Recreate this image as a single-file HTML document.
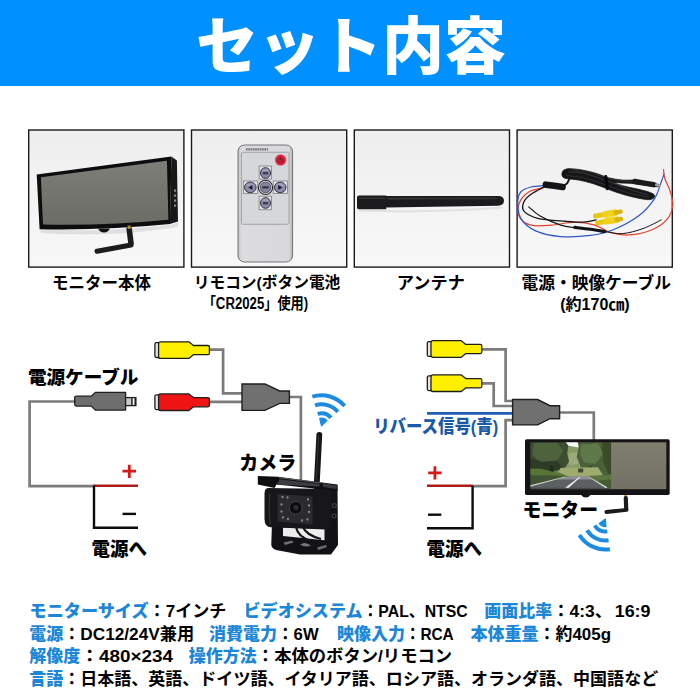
<!DOCTYPE html>
<html lang="ja"><head><meta charset="utf-8"><title>セット内容</title>
<style>
html,body{margin:0;padding:0;background:#fff}
#p{position:relative;width:700px;height:700px;overflow:hidden;background:#fff;font-family:"Liberation Sans","Noto Sans CJK JP",sans-serif}
#p svg{position:absolute;left:0;top:0;display:block}
#p svg text{font-family:"Liberation Sans","Noto Sans CJK JP",sans-serif;white-space:pre}
</style></head><body>
<div id="p">
<svg width="700" height="700" viewBox="0 0 700 700">
<defs>
<linearGradient id="bg1" x1="0" y1="0" x2="0" y2="1"><stop offset="0" stop-color="#eeeeef"/><stop offset="0.6" stop-color="#f4f4f5"/><stop offset="1" stop-color="#f8f8f9"/></linearGradient>
<linearGradient id="scr" x1="0" y1="0" x2="0" y2="1"><stop offset="0" stop-color="#7d7e77"/><stop offset="1" stop-color="#6b6c65"/></linearGradient>
<linearGradient id="rem" x1="0" y1="0" x2="1" y2="0"><stop offset="0" stop-color="#c2c2c4"/><stop offset="0.07" stop-color="#dcdcde"/><stop offset="0.93" stop-color="#d9d9db"/><stop offset="1" stop-color="#b4b4b6"/></linearGradient>
</defs>
<rect x="0" y="0" width="700" height="86" fill="#0090ff"/>
<text x="196" y="68.5" font-size="62" font-weight="900" fill="#fff" textLength="310" lengthAdjust="spacingAndGlyphs">セット内容</text>
<rect x="28.7" y="130" width="155.2" height="137.1" fill="url(#bg1)" stroke="#1a1a1a" stroke-width="1.4"/>
<rect x="191.5" y="130" width="155.2" height="137.1" fill="url(#bg1)" stroke="#1a1a1a" stroke-width="1.4"/>
<rect x="354.3" y="130" width="155.2" height="137.1" fill="url(#bg1)" stroke="#1a1a1a" stroke-width="1.4"/>
<rect x="517.1" y="130" width="155.2" height="137.1" fill="url(#bg1)" stroke="#1a1a1a" stroke-width="1.4"/>
<text x="51.9" y="289" font-size="16.7" font-weight="700" fill="#000" textLength="99" lengthAdjust="spacingAndGlyphs">モニター本体</text>
<text x="193.79" y="288.3" font-size="15.5" font-weight="700" fill="#000" textLength="146.5" lengthAdjust="spacingAndGlyphs">リモコン(ボタン電池</text>
<text x="202.7" y="309.3" font-size="16" font-weight="700" fill="#000" textLength="105.5" lengthAdjust="spacingAndGlyphs">「CR2025」使用)</text>
<text x="396.89" y="289" font-size="17" font-weight="700" fill="#000" textLength="68" lengthAdjust="spacingAndGlyphs">アンテナ</text>
<text x="521.5" y="289" font-size="16.55" font-weight="700" fill="#000" textLength="149.5" lengthAdjust="spacingAndGlyphs">電源・映像ケーブル</text>
<text x="560.2" y="309.5" font-size="15.6" font-weight="700" fill="#000" textLength="69.5" lengthAdjust="spacingAndGlyphs">(約170㎝)</text>
<polyline fill="none" stroke="#7b7b7b" stroke-width="2.7" stroke-linejoin="miter" points="75,401.5 29.6,401.5 29.6,486.2 94,486.2"/>
<polyline fill="none" stroke="#7b7b7b" stroke-width="2.7" stroke-linejoin="miter" points="209,349.6 223.1,349.6 223.1,393.4 243,393.4"/>
<polyline fill="none" stroke="#7b7b7b" stroke-width="2.7" stroke-linejoin="miter" points="209,401.9 243,401.9"/>
<polyline fill="none" stroke="#7b7b7b" stroke-width="2.7" stroke-linejoin="miter" points="289,397 300.9,397 300.9,482"/>
<polyline fill="none" stroke="#b01c1c" stroke-width="2.5" stroke-linejoin="miter" points="93,485.8 138,485.8"/>
<polyline fill="none" stroke="#0c0c0c" stroke-width="2.4" stroke-linejoin="miter" points="138,527.8 94,527.8 94,485.8"/>
<path d="M122.5 471.2H136M129.3 464.8V478" stroke="#d61a1a" stroke-width="2.8" fill="none"/>
<path d="M122.5 513.9H136" stroke="#0c0c0c" stroke-width="2.4" fill="none"/>
<rect x="154.9" y="342.7" width="6" height="14.8" rx="1.5" fill="#e9e2dc" stroke="#1e1e1e" stroke-width="1.3"/>
<path d="M160.6 341.8H188.9L193.4 345.5H207.9Q209.4 345.5 209.4 347V353.2Q209.4 354.7 207.9 354.7H193.4L188.9 358.4H160.6Q158.6 358.4 158.6 356.4V343.8Q158.6 341.8 160.6 341.8Z" fill="#fff000" stroke="#1e1e1e" stroke-width="1.3" stroke-linejoin="round"/>
<rect x="154.9" y="394.8" width="6" height="14.8" rx="1.5" fill="#e9e2dc" stroke="#1e1e1e" stroke-width="1.3"/>
<path d="M160.6 393.9H188.9L193.4 397.6H207.9Q209.4 397.6 209.4 399.1V405.3Q209.4 406.8 207.9 406.8H193.4L188.9 410.5H160.6Q158.6 410.5 158.6 408.5V395.9Q158.6 393.9 160.6 393.9Z" fill="#f01414" stroke="#1e1e1e" stroke-width="1.3" stroke-linejoin="round"/>
<path d="M242 383.95H264.9L279.7 390.95H289.4V403.35H279.7L264.9 410.35H242Z" fill="#707070" stroke="#1e1e1e" stroke-width="1.4" stroke-linejoin="miter"/>
<rect x="125" y="397.6" width="10.9" height="8" fill="#c9c9c9" stroke="#1e1e1e" stroke-width="1.3"/>
<rect x="132.6" y="398.3" width="1.9" height="6.6" fill="#f6f6f6"/>
<rect x="131.2" y="398" width="1.4" height="7.2" fill="#1e1e1e"/>
<rect x="134.5" y="398" width="1.4" height="7.2" fill="#1e1e1e"/>
<path d="M76.2 396.2H91.3L95.3 392.4H125.6V410.1H95.3L91.3 406.1H76.2Q74.7 406.1 74.7 404.6V397.7Q74.7 396.2 76.2 396.2Z" fill="#6e6e6e" stroke="#1e1e1e" stroke-width="1.3" stroke-linejoin="round"/>
<polyline fill="none" stroke="#7b7b7b" stroke-width="2.7" stroke-linejoin="miter" points="481,349.3 505.6,349.3 505.6,401 514,401"/>
<polyline fill="none" stroke="#7b7b7b" stroke-width="2.7" stroke-linejoin="miter" points="481,383.3 493.7,383.3 493.7,406 514,406"/>
<polyline fill="none" stroke="#1d5fae" stroke-width="2.7" stroke-linejoin="miter" points="427,413.3 514,413.3"/>
<polyline fill="none" stroke="#7b7b7b" stroke-width="2.7" stroke-linejoin="miter" points="514,420.1 505.6,420.1 505.6,486.2 472,486.2"/>
<polyline fill="none" stroke="#7b7b7b" stroke-width="2.7" stroke-linejoin="miter" points="559,412.5 593.8,412.5 593.8,441"/>
<polyline fill="none" stroke="#b01c1c" stroke-width="2.5" stroke-linejoin="miter" points="427,485.8 472.8,485.8"/>
<polyline fill="none" stroke="#0c0c0c" stroke-width="2.4" stroke-linejoin="miter" points="427,528.2 472.6,528.2 472.6,485.8"/>
<path d="M428.2 472.9H441.6M434.9 466.2V479.6" stroke="#d61a1a" stroke-width="2.8" fill="none"/>
<path d="M428 514.7H441.3" stroke="#0c0c0c" stroke-width="2.4" fill="none"/>
<rect x="427.3" y="341.6" width="6" height="14.8" rx="1.5" fill="#e9e2dc" stroke="#1e1e1e" stroke-width="1.3"/>
<path d="M433 340.7H461.3L465.8 344.4H480.3Q481.8 344.4 481.8 345.9V352.1Q481.8 353.6 480.3 353.6H465.8L461.3 357.3H433Q431 357.3 431 355.3V342.7Q431 340.7 433 340.7Z" fill="#fff000" stroke="#1e1e1e" stroke-width="1.3" stroke-linejoin="round"/>
<rect x="427.3" y="375.8" width="6" height="14.8" rx="1.5" fill="#e9e2dc" stroke="#1e1e1e" stroke-width="1.3"/>
<path d="M433 374.9H461.3L465.8 378.6H480.3Q481.8 378.6 481.8 380.1V386.3Q481.8 387.8 480.3 387.8H465.8L461.3 391.5H433Q431 391.5 431 389.5V376.9Q431 374.9 433 374.9Z" fill="#fff000" stroke="#1e1e1e" stroke-width="1.3" stroke-linejoin="round"/>
<path d="M512.6 399.5H537.6L550 405.7H559.6V418.7H550L537.6 424.9H512.6Z" fill="#707070" stroke="#1e1e1e" stroke-width="1.4" stroke-linejoin="miter"/>
<text x="27.92" y="384" font-size="18.6" font-weight="800" fill="#000" textLength="110.5" lengthAdjust="spacingAndGlyphs">電源ケーブル</text>
<text x="239.17" y="469.9" font-size="19.2" font-weight="800" fill="#000" textLength="57" lengthAdjust="spacingAndGlyphs">カメラ</text>
<text x="91.62" y="556.2" font-size="19" font-weight="800" fill="#000" textLength="55.5" lengthAdjust="spacingAndGlyphs">電源へ</text>
<text x="373.18" y="433.3" font-size="18" font-weight="800" fill="#1a58a8" textLength="125" lengthAdjust="spacingAndGlyphs">リバース信号(青)</text>
<text x="522.58" y="517.4" font-size="19.2" font-weight="800" fill="#000" textLength="75.5" lengthAdjust="spacingAndGlyphs">モニター</text>
<text x="426.42" y="556.2" font-size="19" font-weight="800" fill="#000" textLength="55.5" lengthAdjust="spacingAndGlyphs">電源へ</text>
<text x="29.59" y="616.8" font-size="17" font-weight="800" fill="#1c86d9" textLength="119" lengthAdjust="spacingAndGlyphs">モニターサイズ</text>
<text x="148.59" y="616.8" font-size="17" font-weight="700" fill="#000" textLength="77.8" lengthAdjust="spacingAndGlyphs">：7インチ</text>
<text x="243.54" y="616.8" font-size="17" font-weight="800" fill="#1c86d9" textLength="119" lengthAdjust="spacingAndGlyphs">ビデオシステム</text>
<text x="362.54" y="616.8" font-size="17" font-weight="700" fill="#000" textLength="105.2" lengthAdjust="spacingAndGlyphs">：PAL、NTSC</text>
<text x="484.2" y="616.8" font-size="17" font-weight="800" fill="#1c86d9" textLength="68" lengthAdjust="spacingAndGlyphs">画面比率</text>
<text x="552.2" y="616.8" font-size="17" font-weight="700" fill="#000" textLength="60" lengthAdjust="spacingAndGlyphs">：4:3、</text>
<text x="614.73" y="616.8" font-size="17" font-weight="700" fill="#000" textLength="35.8" lengthAdjust="spacingAndGlyphs">16:9</text>
<text x="29.18" y="639.8" font-size="17" font-weight="800" fill="#1c86d9" textLength="34" lengthAdjust="spacingAndGlyphs">電源</text>
<text x="63.18" y="639.8" font-size="17" font-weight="700" fill="#000" textLength="130.9" lengthAdjust="spacingAndGlyphs">：DC12/24V兼用</text>
<text x="208.99" y="639.8" font-size="17" font-weight="800" fill="#1c86d9" textLength="68" lengthAdjust="spacingAndGlyphs">消費電力</text>
<text x="276.99" y="639.8" font-size="17" font-weight="700" fill="#000" textLength="41.6" lengthAdjust="spacingAndGlyphs">：6W</text>
<text x="337.02" y="639.8" font-size="17" font-weight="800" fill="#1c86d9" textLength="68" lengthAdjust="spacingAndGlyphs">映像入力</text>
<text x="405.02" y="639.8" font-size="17" font-weight="700" fill="#000" textLength="48.7" lengthAdjust="spacingAndGlyphs">：RCA</text>
<text x="470.53" y="639.8" font-size="17" font-weight="800" fill="#1c86d9" textLength="68" lengthAdjust="spacingAndGlyphs">本体重量</text>
<text x="538.53" y="639.8" font-size="17" font-weight="700" fill="#000" textLength="72.5" lengthAdjust="spacingAndGlyphs">：約405g</text>
<text x="29.21" y="662.3" font-size="17" font-weight="800" fill="#1c86d9" textLength="51" lengthAdjust="spacingAndGlyphs">解像度</text>
<text x="80.21" y="662.3" font-size="17" font-weight="700" fill="#000" textLength="92.7" lengthAdjust="spacingAndGlyphs">：480×234</text>
<text x="188.84" y="662.3" font-size="17" font-weight="800" fill="#1c86d9" textLength="68" lengthAdjust="spacingAndGlyphs">操作方法</text>
<text x="256.84" y="662.3" font-size="17" font-weight="700" fill="#000" textLength="195.3" lengthAdjust="spacingAndGlyphs">：本体のボタン/リモコン</text>
<text x="29.2" y="684.5" font-size="17" font-weight="800" fill="#1c86d9" textLength="34" lengthAdjust="spacingAndGlyphs">言語</text>
<text x="63.2" y="684.5" font-size="17" font-weight="700" fill="#000" textLength="595" lengthAdjust="spacingAndGlyphs">：日本語、英語、ドイツ語、イタリア語、ロシア語、オランダ語、中国語など</text>
<g>
<path d="M40 229Q105 233 172 224.5L178 222L178 227Q110 238 41 233Z" fill="#d9d9dc" opacity="0.8"/>
<path d="M171.4 156.6L176.9 160.5L178 221.4L169.9 224Z" fill="#18181a"/>
<path d="M36.7 174.4L171.4 156.6L170.1 224Q105 230.5 39.6 229.2Z" fill="#0d0d0f"/>
<path d="M40.9 177.3L166.9 160.8L168.4 219.8Q105 226 43 224.6Z" fill="url(#scr)"/>
<rect x="174" y="189.5" width="2.2" height="2.2" fill="#8a8a8e"/>
<rect x="174" y="194.5" width="2.2" height="2.2" fill="#8a8a8e"/>
<rect x="174" y="199.5" width="2.2" height="2.2" fill="#8a8a8e"/>
<rect x="174" y="204.5" width="2.2" height="2.2" fill="#8a8a8e"/>
<path d="M98 228.5H110Q108 232.5 104 232.5Q100 232.5 98 228.5Z" fill="#111"/>
<path d="M129.2 229L131 243.3" stroke="#1c1c1c" stroke-width="5.6" stroke-linecap="round" fill="none"/>
<path d="M131 245L97 251.2" stroke="#1c1c1c" stroke-width="5" stroke-linecap="round" fill="none"/>
<rect x="127.6" y="225.6" width="3" height="3.2" fill="#b8962e"/>
</g>
<g>
<rect x="238" y="145" width="54.6" height="117" rx="6.5" fill="url(#rem)" stroke="#66666a" stroke-width="0.9"/>
<rect x="241.4" y="152.3" width="47.6" height="72" rx="1.5" fill="#d6d7db" stroke="#8c8c90" stroke-width="0.7"/>
<path d="M246 149.3H268" stroke="#55555a" stroke-width="2.2" stroke-dasharray="1.6 0.7" opacity="0.8"/>
<circle cx="280.6" cy="160" r="5.9" fill="#e58a9a"/>
<circle cx="280.6" cy="160" r="5.2" fill="#d5233f"/>
<circle cx="280.6" cy="160.3" r="2.4" fill="none" stroke="#7e1020" stroke-width="0.9"/>
<path d="M280.6 156.8V160.2" stroke="#7e1020" stroke-width="0.9"/>
<rect x="259.1" y="166" width="12.5" height="13" fill="#e3e3e6" stroke="#707075" stroke-width="0.7"/>
<rect x="259.1" y="196.2" width="12.5" height="13.6" fill="#e3e3e6" stroke="#707075" stroke-width="0.7"/>
<rect x="243.3" y="181" width="14.5" height="12.6" fill="#e3e3e6" stroke="#707075" stroke-width="0.7"/>
<rect x="273.2" y="181" width="14.2" height="12.6" fill="#e3e3e6" stroke="#707075" stroke-width="0.7"/>
<ellipse cx="265.5" cy="173" rx="5" ry="5.3" fill="#8d8bab" stroke="#35343f" stroke-width="1"/>
<ellipse cx="265.5" cy="170.62" rx="3.25" ry="1.85" fill="#a9a7c2" opacity="0.7"/>
<ellipse cx="265.5" cy="203" rx="5" ry="5.3" fill="#8d8bab" stroke="#35343f" stroke-width="1"/>
<ellipse cx="265.5" cy="200.62" rx="3.25" ry="1.85" fill="#a9a7c2" opacity="0.7"/>
<ellipse cx="250.3" cy="187.4" rx="5.8" ry="5.3" fill="#8d8bab" stroke="#35343f" stroke-width="1"/>
<ellipse cx="250.3" cy="185.02" rx="3.77" ry="1.85" fill="#a9a7c2" opacity="0.7"/>
<ellipse cx="280.2" cy="187.4" rx="5.8" ry="5.3" fill="#8d8bab" stroke="#35343f" stroke-width="1"/>
<ellipse cx="280.2" cy="185.02" rx="3.77" ry="1.85" fill="#a9a7c2" opacity="0.7"/>
<circle cx="265.5" cy="187.4" r="7.1" fill="#f0f0f2" stroke="#26262e" stroke-width="1.1"/>
<circle cx="265.5" cy="187.4" r="5.4" fill="#8583a2" stroke="#3a3946" stroke-width="0.8"/>
<path d="M252.4 185.1V189.7L248.2 187.4Z" fill="#15151a"/><path d="M278.2 185.1V189.7L282.4 187.4Z" fill="#15151a"/>
<rect x="262.9" y="171.8" width="5.2" height="2.6" fill="#3d3c50"/><rect x="262.9" y="201.8" width="5.2" height="2.6" fill="#3d3c50"/><rect x="262.3" y="186.4" width="6.4" height="2" fill="#2d2c3c"/>
</g>
<g>
<path d="M358.5 209.5Q430 212 503 206.5L503 208.5Q430 214 358.5 211.5Z" fill="#dcdcde" opacity="0.8"/>
<path d="M359 195.5H386.3V195.9L498 196.1Q504 196.3 504 200.8Q504 205.4 498 205.7L386.3 207.5V209.3H359Q357 209.3 357 207.3V197.5Q357 195.5 359 195.5Z" fill="#1b1b1d"/>
<path d="M388 198.6L496 198.4" stroke="#3b3b3e" stroke-width="1.6" stroke-linecap="round" opacity="0.8"/>
<path d="M359 198.2H385" stroke="#38383b" stroke-width="1.6" opacity="0.8"/>
</g>
<g>
<path d="M544.26 187.43C541.67 188.19 532.9 189.33 528.71 192C524.52 194.67 520.64 199.24 519.11 203.43C517.59 207.62 517.59 213.52 519.57 217.14C521.55 220.76 525.67 223.81 531 225.14C536.33 226.48 544.33 225.64 551.57 225.14C558.81 224.65 567.19 222.17 574.43 222.17C581.67 222.17 588.9 223.39 595 225.14C601.1 226.9 605.29 231.05 611 232.69C616.71 234.32 622.43 235.47 629.29 234.97C636.14 234.48 645.86 232.3 652.14 229.71C658.43 227.12 663.57 223.43 667 219.43C670.43 215.43 672.14 210.29 672.71 205.71C673.29 201.14 671.76 196.57 670.43 192C669.1 187.43 665.86 182.02 664.71 178.29C663.57 174.55 663.76 171.05 663.57 169.6" fill="none" stroke="#e5412b" stroke-width="1.2" stroke-linecap="round" stroke-linejoin="round"/>
<path d="M544.26 185.83C542.05 186.02 534.92 185.94 531 186.97C527.08 188 522.92 189.26 520.71 192C518.5 194.74 517.63 198.86 517.74 203.43C517.86 208 518.43 214.86 521.4 219.43C524.37 224 529.02 228 535.57 230.86C542.12 233.71 551.57 235.81 560.71 236.57C569.86 237.33 581.67 236.57 590.43 235.43C599.19 234.29 605.29 232.95 613.29 229.71C621.29 226.48 631.57 221.14 638.43 216C645.29 210.86 650.62 204.57 654.43 198.86C658.24 193.14 659.69 185.83 661.29 181.71C662.89 177.6 663.57 175.43 664.03 174.17" fill="none" stroke="#2c58c4" stroke-width="1.2" stroke-linecap="round" stroke-linejoin="round"/>
<path d="M544.26 186.97C542.05 188.19 534.43 191.73 531 194.29C527.57 196.84 524.83 199.43 523.69 202.29C522.54 205.14 521.78 208.76 524.14 211.43C526.5 214.1 531 216.65 537.86 218.29C544.71 219.92 557.67 220.61 565.29 221.26C572.9 221.9 578.43 222.4 583.57 222.17C588.71 221.94 594.05 220.27 596.14 219.89" fill="none" stroke="#161616" stroke-width="1.3" stroke-linecap="round" stroke-linejoin="round"/>
<path d="M528.71 206.86C530.62 208.38 534.81 212.95 540.14 216C545.48 219.05 554.92 223.2 560.71 225.14C566.5 227.09 572.52 227.24 574.89 227.66" fill="none" stroke="#161616" stroke-width="1.2" stroke-linecap="round" stroke-linejoin="round"/>
<path d="M604.14 231.31C607.19 231.7 615.95 234.06 622.43 233.6C628.9 233.14 636.52 230.86 643 228.57C649.48 226.29 658.24 221.33 661.29 219.89" fill="none" stroke="#161616" stroke-width="1" stroke-linecap="round" stroke-linejoin="round"/>
<path d="M574.89 227.43C577.48 227.73 585.48 228.57 590.43 229.26C595.38 229.94 602.24 231.16 604.6 231.54" fill="none" stroke="#141414" stroke-width="3.2" stroke-linecap="round" stroke-linejoin="round"/>
<path d="M561.86 174.17C562.12 173.52 562.12 171.2 563.46 170.29C564.79 169.37 566.5 168.69 569.86 168.69C573.21 168.69 579 169.45 583.57 170.29C588.14 171.12 593.1 172.46 597.29 173.71C601.48 174.97 604.52 176.76 608.71 177.83C612.9 178.9 618.24 179.73 622.43 180.11C626.62 180.5 630.43 179.85 633.86 180.11C637.29 180.38 639.38 181.1 643 181.71C646.62 182.32 652.83 183.24 655.57 183.77C658.31 184.3 658.89 184.46 659.46 184.91C660.03 185.37 659.84 186.25 659 186.51C658.16 186.78 657.1 186.82 654.43 186.51C651.76 186.21 646.43 185.18 643 184.69C639.57 184.19 637.29 183.81 633.86 183.54C630.43 183.28 625.67 183.24 622.43 183.09C619.19 182.93 614.05 182.1 614.43 182.63C614.81 183.16 620.71 185.18 624.71 186.29C628.71 187.39 634.43 188.3 638.43 189.26C642.43 190.21 646.09 191.09 648.71 192C651.34 192.91 653.36 193.75 654.2 194.74C655.04 195.73 654.47 197.14 653.74 197.94C653.02 198.74 651.65 199.35 649.86 199.54C648.07 199.73 646.43 199.66 643 199.09C639.57 198.51 633.86 197.3 629.29 196.11C624.71 194.93 619.38 193.26 615.57 192C611.76 190.74 610.24 189.98 606.43 188.57C602.62 187.16 597.29 184.95 592.71 183.54C588.14 182.13 583.19 180.91 579 180.11C574.81 179.31 570.24 179.24 567.57 178.74C564.9 178.25 563.95 177.9 563 177.14C562.05 176.38 562.05 174.67 561.86 174.17Z" fill="#161618" stroke="#161618" stroke-width="0.8" stroke-linejoin="round"/>
<path d="M568.71 171.89C571.19 172.11 577.29 171.81 583.57 173.26C589.86 174.7 598.81 177.9 606.43 180.57C614.05 183.24 622.43 186.9 629.29 189.26C636.14 191.62 644.52 193.83 647.57 194.74" fill="none" stroke="#47474b" stroke-width="0.7" stroke-linecap="round" stroke-linejoin="round"/>
<path d="M566.43 175.54C569.29 175.92 576.9 176.23 583.57 177.83C590.24 179.43 598.81 182.59 606.43 185.14C614.05 187.7 622.24 191.16 629.29 193.14C636.33 195.12 645.48 196.38 648.71 197.03" fill="none" stroke="#3c3c40" stroke-width="0.7" stroke-linecap="round" stroke-linejoin="round"/>
<path d="M572.14 170.06C575.19 170.48 583.95 171.05 590.43 172.57C596.9 174.1 603.95 177.68 611 179.2C618.05 180.72 629.1 181.3 632.71 181.71" fill="none" stroke="#3f3f43" stroke-width="0.6" stroke-linecap="round" stroke-linejoin="round"/>
<path d="M605.74 176.46C606.01 178.51 607.08 186.74 607.34 188.8" fill="none" stroke="#060607" stroke-width="3" stroke-linecap="round" stroke-linejoin="round"/>
<path d="M634.77 181.49C637.9 182.02 650.39 184.15 653.51 184.69" fill="none" stroke="#1a1a1c" stroke-width="5.4" stroke-linecap="round" stroke-linejoin="round"/>
<path d="M656.26 184.91C656.87 185.05 659.3 185.58 659.91 185.71" fill="none" stroke="#a0a0a0" stroke-width="2.6" stroke-linecap="round" stroke-linejoin="round"/>
<path d="M561.86 186.74C562.73 186.17 565.86 184.72 567.11 183.31C568.37 181.9 569.02 179.12 569.4 178.29" fill="none" stroke="#161618" stroke-width="2" stroke-linecap="round" stroke-linejoin="round"/>
<path d="M545.86 184.69C548.64 185.07 559.76 186.59 562.54 186.97" fill="none" stroke="#151517" stroke-width="6.6" stroke-linecap="round" stroke-linejoin="round"/>
<path d="M595.46 216C597.1 215.73 603.65 214.67 605.29 214.4" fill="none" stroke="#e9c813" stroke-width="5" stroke-linecap="round" stroke-linejoin="round"/>
<path d="M605.29 214.4C607 214.1 613.86 212.88 615.57 212.57" fill="none" stroke="#f1d21a" stroke-width="6.6" stroke-linecap="round" stroke-linejoin="round"/>
<path d="M615.57 212.57C616.41 212.42 619.76 211.81 620.6 211.66" fill="none" stroke="#d9b40f" stroke-width="4.4" stroke-linecap="round" stroke-linejoin="round"/>
<path d="M597.74 222.86C599.19 222.59 604.98 221.52 606.43 221.26" fill="none" stroke="#e9c813" stroke-width="5" stroke-linecap="round" stroke-linejoin="round"/>
<path d="M606.43 221.26C608.14 220.99 615 219.92 616.71 219.66" fill="none" stroke="#f1d21a" stroke-width="6.6" stroke-linecap="round" stroke-linejoin="round"/>
<path d="M616.71 219.66C617.44 219.54 620.33 219.09 621.06 218.97" fill="none" stroke="#d9b40f" stroke-width="4.4" stroke-linecap="round" stroke-linejoin="round"/>
</g>
<path d="M317.74 413.88A12.5 12.5 0 0 1 331.01 417.68" fill="none" stroke="#1c8ce3" stroke-width="4" stroke-linecap="butt"/>
<path d="M315.03 405.3A21.5 21.5 0 0 1 337.85 411.84" fill="none" stroke="#1c8ce3" stroke-width="4" stroke-linecap="butt"/>
<path d="M312.33 396.71A30.5 30.5 0 0 1 344.69 405.99" fill="none" stroke="#1c8ce3" stroke-width="4" stroke-linecap="butt"/>
<path d="M321.5 425.8L319.73 418.41A7.6 7.6 0 0 1 326.92 420.47Z" fill="#1c8ce3" stroke="#1c8ce3" stroke-width="1.2" stroke-linejoin="round"/>
<path d="M607.25 531.36A12.5 12.5 0 0 1 594.74 525.53" fill="none" stroke="#1c8ce3" stroke-width="4" stroke-linecap="butt"/>
<path d="M608.58 540.26A21.5 21.5 0 0 1 587.07 530.23" fill="none" stroke="#1c8ce3" stroke-width="4" stroke-linecap="butt"/>
<path d="M609.91 549.16A30.5 30.5 0 0 1 579.39 534.94" fill="none" stroke="#1c8ce3" stroke-width="4" stroke-linecap="butt"/>
<path d="M605.4 519L606 526.58A7.6 7.6 0 0 1 599.21 523.41Z" fill="#1c8ce3" stroke="#1c8ce3" stroke-width="1.2" stroke-linejoin="round"/>
<g>
<path d="M319.3 434.8L316.6 487" stroke="#161618" stroke-width="5.8" stroke-linecap="round"/>
<path d="M318.6 436L316.4 480" stroke="#3a3a3e" stroke-width="1.2" stroke-linecap="round" opacity="0.7"/>
<path d="M330 484.5L337.5 485.5L338 545L331 554.5L300 554.5L276 550Q271 548 271.3 544L272 522H330Z" fill="#121214"/>
<path d="M283 527.5L324.5 529V540.2L283 536Z" fill="#ececed"/>
<path d="M296 527Q298 537 311 541M303 527Q306 535 321 539" stroke="#161618" stroke-width="2.2" fill="none"/>
<path d="M283.5 542.5L292 540.5L293.5 542.5L285 545Z" fill="#6e6e72"/><path d="M300 544.5Q305 541 311 545.5Q305 548 300 544.5Z" fill="#77777b"/><path d="M317 547.5L326 545L327 547L318.5 550Z" fill="#6e6e72"/>
<path d="M268 488Q264.5 488 264.5 494V519Q264.5 527 271 527.3L326 529.5Q331 529.5 331 524V489Z" fill="#17171a"/>
<path d="M257.8 476L278 476.8L337.5 484.5V491L276.5 484.5L274.5 488L257.8 484.5Z" fill="#0f0f11"/>
<path d="M279.5 479.2L320 484L319.2 486.6L277 484.6Z" fill="#3d3d41"/>
<path d="M279 477.7L321 482.9" stroke="#6a6a70" stroke-width="0.9" opacity="0.9"/>
<path d="M322.5 483L337 485.6L336.5 489L323 487Z" fill="#38383c"/>
<path d="M277.5 494L312.5 496.5V524.5L277.5 521.5Z" fill="#2b2a2d"/>
<path d="M270 494Q268 508 270.5 524" stroke="#3b3b40" stroke-width="1.2" fill="none" opacity="0.8"/>
<circle cx="295.7" cy="507.8" r="6.3" fill="#0b0b0d" stroke="#46464b" stroke-width="0.9"/>
<circle cx="295.9" cy="507.6" r="2.6" fill="#2d2d33"/>
<circle cx="282.5" cy="497" r="1.15" fill="#8b8784"/>
<circle cx="287.5" cy="497.5" r="1.15" fill="#8b8784"/>
<circle cx="308" cy="499.5" r="1.15" fill="#8b8784"/>
<circle cx="281.5" cy="504.5" r="1.15" fill="#8b8784"/>
<circle cx="309" cy="505.5" r="1.15" fill="#8b8784"/>
<circle cx="281.5" cy="511.5" r="1.15" fill="#8b8784"/>
<circle cx="309" cy="512" r="1.15" fill="#8b8784"/>
<circle cx="283" cy="517.5" r="1.15" fill="#8b8784"/>
<circle cx="288" cy="519" r="1.15" fill="#8b8784"/>
<circle cx="307.5" cy="519.5" r="1.15" fill="#8b8784"/>
<circle cx="302" cy="520.5" r="1.15" fill="#8b8784"/>
<circle cx="334.3" cy="505.5" r="2.6" fill="#3a3a3e"/><circle cx="334" cy="515.8" r="2.6" fill="#3a3a3e"/>
<circle cx="334.3" cy="505.5" r="1.2" fill="#0c0c0d"/><circle cx="334" cy="515.8" r="1.2" fill="#0c0c0d"/>
</g>
<defs><clipPath id="rc"><rect x="530.3" y="442.3" width="80.8" height="46.9"/></clipPath><filter id="bl" x="-10%" y="-10%" width="120%" height="120%"><feGaussianBlur stdDeviation="0.7"/></filter><linearGradient id="scr2" x1="0" y1="0" x2="0" y2="1"><stop offset="0" stop-color="#807e6d"/><stop offset="1" stop-color="#737166"/></linearGradient><linearGradient id="road" x1="0" y1="0" x2="0" y2="1"><stop offset="0" stop-color="#b5b5b3"/><stop offset="1" stop-color="#8d8d8f"/></linearGradient></defs>
<g>
<rect x="525" y="439.3" width="144.7" height="55.6" rx="1.6" fill="#141416"/>
<path d="M580.6 494.5H591Q589 497.4 585.8 497.4Q582.6 497.4 580.6 494.5Z" fill="#141416"/>
<rect x="610.5" y="442.3" width="55.8" height="46.9" fill="url(#scr2)"/>
<g clip-path="url(#rc)"><g filter="url(#bl)">
<rect x="528" y="440" width="86" height="52" fill="#66804a"/>
<polygon points="555.56,440.57 586.41,440.57 583.84,449.57 577.41,457.28 568.42,458.57 563.28,452.14" fill="#e8ece4"/>
<polygon points="563.28,440.57 582.56,440.57 580.63,446.74 564.56,447.25" fill="#fbfbf9"/>
<polygon points="561.99,448.28 568.42,445.71 579.98,447.64 582.56,455.99 579.98,468.21 563.28,468.21" fill="#879a63"/>
<polygon points="568.42,453.42 577.41,452.14 578.7,463.71 569.06,465.63" fill="#9cab78"/>
<polygon points="528.57,440.57 564.56,440.57 568.42,445.71 567.13,453.42 569.06,461.14 564.56,468.85 551.71,470.78 528.57,470.13" fill="#3d4e33"/>
<polygon points="533.71,443.14 556.85,442.5 563.28,450.85 558.13,459.85 540.14,462.42 532.43,454.71" fill="#4e623e"/>
<polygon points="528.57,457.28 541.42,461.78 556.85,461.14 564.56,468.21 551.71,471.68 528.57,470.78" fill="#2d3b25"/>
<polygon points="549.78,465.63 552.99,465.63 553.25,472.96 550.16,472.96" fill="#232a1c"/>
<polygon points="577.41,440.57 613.4,440.57 613.4,476.56 597.98,475.28 590.27,468.21 581.27,467.56 576.77,457.28 578.7,447" fill="#4b6038"/>
<polygon points="581.27,444.43 597.98,443.14 603.12,453.42 595.41,463.71 583.84,462.42 579.98,453.42" fill="#5f784a"/>
<polygon points="601.84,440.57 613.4,440.57 613.4,475.28 608.26,473.99 603.12,461.14" fill="#3a4c2c"/>
<polygon points="589.24,466.28 591.55,466.28 591.81,473.35 589.5,473.35" fill="#232a1c"/>
<polygon points="560.7,467.82 597.98,467.31 603.12,475.28 586.41,476.56 568.42,476.3 558.13,472.06" fill="#9eab6e"/>
<polygon points="578.06,468.59 583.2,468.59 583.2,472.45 578.06,472.45" fill="#3c4a2c"/>
<polygon points="528.57,468.59 541.42,468.85 564.56,475.02 563.28,477.2 528.57,485.81" fill="#587538"/>
<polygon points="528.57,475.28 551.71,475.53 564.56,476.05 528.57,485.81" fill="#3f5230"/>
<polygon points="586.41,476.05 613.4,474.63 613.4,489.41 608.26,488.77" fill="#5a753c"/>
<polygon points="597.98,480.42 613.4,479.13 613.4,489.41 608.26,488.77" fill="#465c30"/>
<polygon points="528.57,486.84 564.56,477.07 570.34,476.05 587.05,476.05 608.26,488.77 528.57,489.41" fill="#5d6062"/>
<polygon points="564.56,477.07 570.34,476.05 587.05,476.05 592.84,479.39 558.13,479.39" fill="#8d9090"/>
<polygon points="528.57,487.87 608.26,487.87 608.26,489.41 528.57,489.41" fill="#48494b"/>
<polygon points="528.57,485.81 564.56,476.82 565.07,477.33 528.57,487.1" fill="#d9dad6"/>
<polygon points="587.44,476.3 588.21,476.17 607.49,487.61 605.95,488.13" fill="#e4e5e1"/>
<polygon points="565.2,487.87 579.34,477.07 580.37,477.2 568.67,487.87" fill="#f2f2f0"/>
</g></g>
<rect x="624.4" y="495" width="2.6" height="2.6" fill="#b8962e"/>
<path d="M625.8 498L626.2 508.6" stroke="#1b1b1d" stroke-width="4.2" stroke-linecap="round"/>
<path d="M626.6 509.8L606.4 512" stroke="#1b1b1d" stroke-width="3.8" stroke-linecap="round"/>
</g>
</svg>
</div>
</body></html>
